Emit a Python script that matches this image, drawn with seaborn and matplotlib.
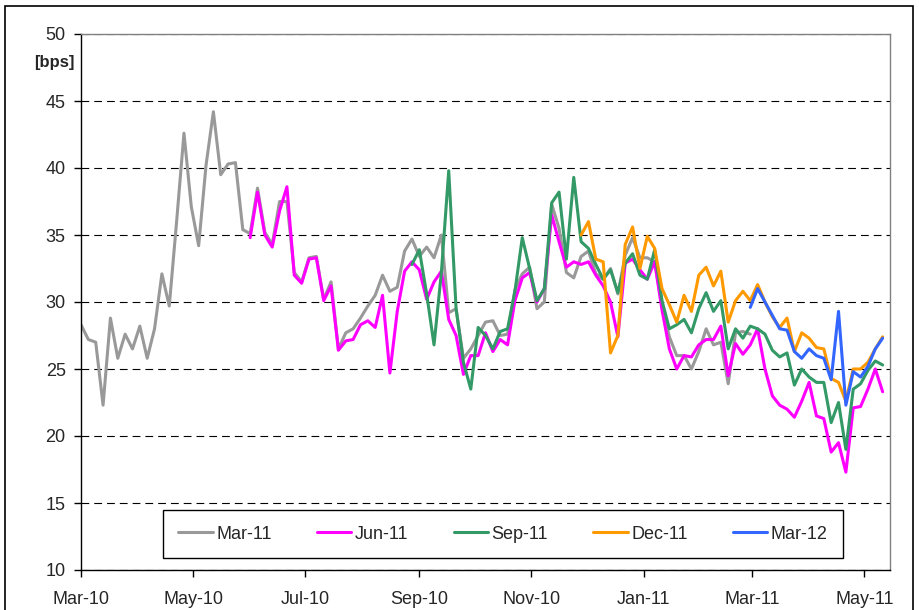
import pandas as pd
import seaborn as sns
import matplotlib.pyplot as plt
import matplotlib.dates as mdates
from matplotlib.patches import Rectangle

# Style
sns.set_style("white")
plt.rcParams['font.family'] = ['Liberation Sans', 'DejaVu Sans']

# Sampling step of the values (every 4 calendar days)
step = '4D'

contracts = ['Mar-11', 'Jun-11', 'Sep-11', 'Dec-11', 'Mar-12']
colors = ['#999999', '#FF00FF', '#339966', '#FF9900', '#3366FF']

# Start date of each series
starts = ['2010-03-01', '2010-06-01', '2010-08-28', '2010-11-28', '2011-02-28']

# Values in bps
mar11 = [28.3, 27.2, 27.0, 22.3, 28.8, 25.8, 27.6, 26.5, 28.2, 25.8,
         28.0, 32.1, 29.7, 36.0, 42.6, 37.1, 34.2, 40.2, 44.2, 39.5,
         40.3, 40.4, 35.4, 35.1, 38.5, 35.2, 34.3, 37.5, 37.5, 32.2,
         31.5, 33.3, 33.4, 30.2, 31.5, 26.5, 27.7, 28.0, 28.8, 29.7,
         30.5, 32.0, 30.8, 31.1, 33.8, 34.7, 33.4, 34.1, 33.3, 35.0,
         29.2, 29.5, 25.8, 26.5, 27.5, 28.5, 28.6, 27.5, 27.6, 30.9,
         32.1, 32.6, 29.5, 30.0, 37.3, 35.5, 32.2, 31.8, 33.4, 33.8,
         32.1, 31.7, 32.5, 30.6, 33.5, 34.8, 33.3, 33.3, 33.0, 29.7,
         27.4, 26.0, 26.0, 25.0, 26.3, 28.0, 26.8, 27.0, 23.9, 27.7,
         27.8, 27.6]

jun11 = [34.8, 38.2, 35.0, 34.1, 36.8, 38.6, 32.0,
         31.4, 33.2, 33.3, 30.1, 31.2, 26.4, 27.1, 27.2, 28.3, 28.6,
         28.1, 30.5, 24.7, 29.3, 32.3, 33.0, 32.4, 30.2, 31.5, 32.3,
         28.7, 27.5, 24.6, 26.0, 26.0, 27.7, 26.3, 27.2, 26.8, 30.1,
         31.8, 32.2, 30.0, 31.0, 36.5, 34.5, 32.6, 33.0, 32.8, 33.0,
         32.0, 31.2, 30.0, 27.4, 32.9, 33.2, 32.4, 31.7, 33.0, 29.4,
         26.5, 25.0, 26.0, 25.9, 26.8, 27.2, 27.2, 28.2, 24.5, 26.9,
         26.1, 26.8, 28.0, 25.0, 23.0, 22.3, 22.0, 21.4, 22.6, 24.0,
         21.5, 21.3, 18.8, 19.5, 17.3, 22.1, 22.2, 23.5, 25.0, 23.3]

sep11 = [32.8, 33.9, 30.6, 26.8, 32.2,
         39.8, 29.5, 25.5, 23.5, 28.1, 27.5, 26.5, 27.8, 28.0, 30.8,
         34.8, 32.5, 30.1, 31.0, 37.4, 38.2, 33.2, 39.3, 34.5, 34.0,
         32.8, 31.7, 32.4, 30.7, 32.9, 33.6, 32.0, 31.7, 33.9, 30.1,
         28.0, 28.3, 28.7, 27.7, 29.5, 30.7, 29.3, 30.1, 26.5, 28.0,
         27.3, 28.2, 28.0, 27.6, 26.4, 25.9, 26.2, 23.8, 25.0, 24.4,
         24.0, 24.0, 21.0, 22.5, 19.0, 23.5, 23.9, 24.9, 25.6, 25.3]

dec11 = [35.0, 36.0,
         33.2, 33.0, 26.2, 27.5, 34.3, 35.6, 32.5, 34.9, 34.0, 31.0,
         29.8, 28.5, 30.5, 29.3, 32.0, 32.6, 31.2, 32.3, 28.5, 30.1,
         30.8, 30.1, 31.3, 30.0, 28.9, 28.1, 28.8, 26.3, 27.7, 27.3,
         26.6, 26.5, 24.3, 24.0, 22.6, 25.0, 25.0, 25.5, 26.5, 27.4]

mar12 = [29.6, 31.0, 30.0, 29.0, 28.0, 27.9, 26.3, 25.8, 26.5, 26.0,
         25.8, 24.2, 29.3, 22.3, 24.8, 24.4, 25.2, 26.5, 27.3]

# Long-form table for seaborn
frames = []
for name, start, vals in zip(contracts, starts, [mar11, jun11, sep11, dec11, mar12]):
    frames.append(pd.DataFrame({
        'Date': pd.date_range(start, periods=len(vals), freq=step),
        'bps': vals,
        'Contract': name,
    }))
df = pd.concat(frames, ignore_index=True)

fig = plt.figure(figsize=(9.19, 6.10), dpi=100)
ax = fig.add_axes([81 / 919, 40 / 610, 809 / 919, 536 / 610])

sns.lineplot(data=df, x='Date', y='bps', hue='Contract', hue_order=contracts,
             palette=colors, linewidth=2.2, ax=ax)

# Axes limits and ticks
ax.set_xlim(pd.Timestamp('2010-03-01'), pd.Timestamp('2011-05-15'))
ax.set_ylim(10, 50)
ax.set_yticks(range(10, 51, 5))
ax.xaxis.set_major_locator(mdates.MonthLocator(bymonth=(1, 3, 5, 7, 9, 11)))
ax.xaxis.set_major_formatter(mdates.DateFormatter('%b-%y'))
ax.set_xlabel('')
ax.set_ylabel('')
ax.tick_params(axis='both', bottom=True, left=True, direction='out',
               length=5, width=1, color='black', labelsize=13)
ax.tick_params(axis='y', pad=6)
ax.tick_params(axis='x', pad=10)

# Gridlines and frame
ax.set_axisbelow(True)
ax.yaxis.grid(True, color='black', linestyle=(0, (7, 4.5)), linewidth=0.8)
ax.xaxis.grid(False)
for side in ['top', 'right']:
    ax.spines[side].set_color('#808080')
    ax.spines[side].set_linewidth(1)
for side in ['left', 'bottom']:
    ax.spines[side].set_color('black')
    ax.spines[side].set_linewidth(1)

# Legend
sns.move_legend(ax, 'lower left', bbox_to_anchor=(0.1014, 0.0224, 0.8405, 0.0933),
                mode='expand', ncol=5, title=None, frameon=True, fancybox=False,
                edgecolor='black', framealpha=1, fontsize=13, borderpad=0.85,
                borderaxespad=0, handlelength=1.9, handletextpad=0.2)
ax.get_legend().get_frame().set_linewidth(1)

# Unit label and outer frame
fig.text(54 / 919, 1 - 62 / 610, '[bps]', ha='center', va='center',
         fontweight='bold', fontsize=12)
fig.add_artist(Rectangle((5 / 919, -0.02), 908 / 919, 1 - 6 / 610 + 0.02,
                         transform=fig.transFigure, fill=False,
                         edgecolor='black', linewidth=1.2))

fig.savefig('out.png', dpi=100)
